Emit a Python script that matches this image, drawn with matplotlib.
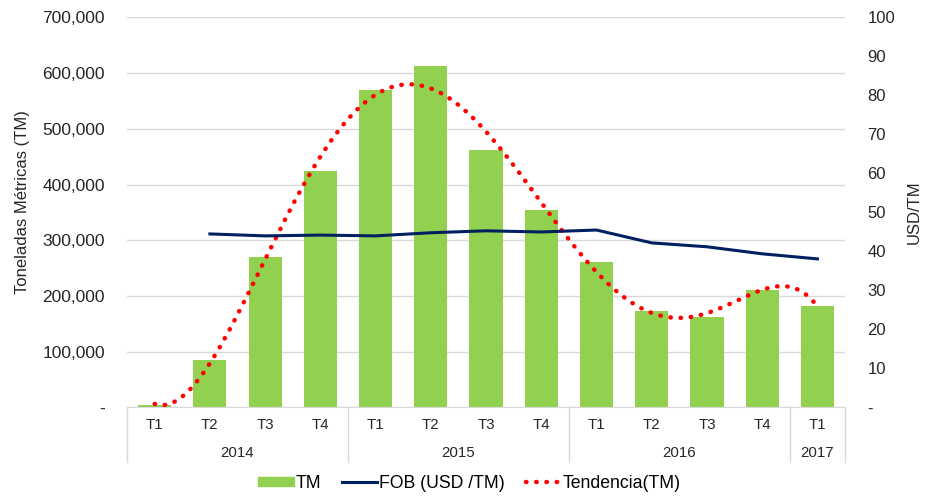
import numpy as np
import matplotlib
matplotlib.use("Agg")
import matplotlib.pyplot as plt
from matplotlib.ticker import FuncFormatter
from matplotlib.lines import Line2D
from matplotlib.patches import Patch

plt.rcParams["font.family"] = ["Liberation Sans", "DejaVu Sans"]

quarters = ["T1", "T2", "T3", "T4", "T1", "T2", "T3", "T4", "T1", "T2", "T3", "T4", "T1"]
years = ["2014", "2015", "2016", "2017"]
year_sizes = [4, 4, 4, 1]
tm = [4000, 86000, 270000, 424000, 569000, 613000, 462000, 354000,
      261000, 174000, 163000, 211000, 182000]
fob = [None, 44.5, 44.0, 44.2, 44.0, 44.8, 45.3, 45.0, 45.5, 42.2, 41.2, 39.4, 38.1]

GREEN = "#92d050"
NAVY = "#002060"
GRID = "#d9d9d9"
TXT = "#262626"

fig = plt.figure(figsize=(9.32, 4.99), dpi=100)
ax = fig.add_axes([0.1363, 0.1834, 0.7704, 0.7816])
ax2 = ax.twinx()

x = np.arange(len(tm))
ax.bar(x, tm, width=0.6, color=GREEN, zorder=2)

# Excel-style polynomial trendline (order 6) over the bar values
xs = np.arange(1, len(tm) + 1)
coef = np.polyfit(xs, tm, 6)
xf = np.linspace(1, len(tm), 300)
dots = (0, (0.1, 2.2))
ax.plot(xf - 1, np.polyval(coef, xf), color="red", lw=3.2,
        linestyle=dots, dash_capstyle="round", zorder=4)

fx = [i for i, v in enumerate(fob) if v is not None]
fy = [v for v in fob if v is not None]
ax2.plot(fx, fy, color=NAVY, lw=2.2, zorder=3)

ax.set_xlim(-0.5, len(tm) - 0.5)
ax.set_ylim(0, 700000)
ax.set_yticks(np.arange(0, 700001, 100000))
ax.yaxis.set_major_formatter(FuncFormatter(lambda v, p: "-" if v == 0 else f"{v:,.0f}"))
ax2.set_ylim(0, 100)
ax2.set_yticks(np.arange(0, 101, 10))
ax2.yaxis.set_major_formatter(FuncFormatter(lambda v, p: "-" if v == 0 else f"{v:.0f}"))

ax.grid(axis="y", color=GRID, lw=1, zorder=0)
ax.set_axisbelow(True)
for a in (ax, ax2):
    for s in a.spines.values():
        s.set_visible(False)
    a.tick_params(length=0, colors=TXT)
ax.spines["bottom"].set_visible(True)
ax.spines["bottom"].set_color(GRID)
ax.tick_params(axis="y", pad=16, labelsize=12.5)
ax2.tick_params(axis="y", pad=16, labelsize=12)
ax.set_xticks([])

ax.set_ylabel("Toneladas Métricas (TM)", fontsize=12, color=TXT)
ax.yaxis.set_label_coords(-0.135, 0.527)
ax2.set_ylabel("USD/TM", fontsize=12, color=TXT)
ax2.yaxis.set_label_coords(1.086, 0.5)

# two-level category axis
trans = ax.get_xaxis_transform()
for i, q in enumerate(quarters):
    ax.text(i, -0.045, q, transform=trans, ha="center", va="center",
            fontsize=10.8, color=TXT)
start = 0
bounds = [-0.5]
for yr, n in zip(years, year_sizes):
    ax.text(start + (n - 1) / 2, -0.117, yr, transform=trans, ha="center",
            va="center", fontsize=10.8, color=TXT)
    start += n
    bounds.append(start - 0.5)
for b in bounds:
    ax.plot([b, b], [0, -0.14], transform=trans, color=GRID, lw=1, clip_on=False)

handles = [Patch(color=GREEN),
           Line2D([], [], color=NAVY, lw=2.2),
           Line2D([], [], color="red", lw=3.2, linestyle=dots,
                  dash_capstyle="round")]
fig.legend(handles, ["TM", "FOB (USD /TM)", "Tendencia(TM)"], loc="center",
           bbox_to_anchor=(0.504, 0.032), ncol=3, frameon=False, fontsize=12.7,
           handlelength=2.0, handleheight=0.45, handletextpad=0.1,
           columnspacing=1.2)

fig.savefig("out.png", dpi=100)
